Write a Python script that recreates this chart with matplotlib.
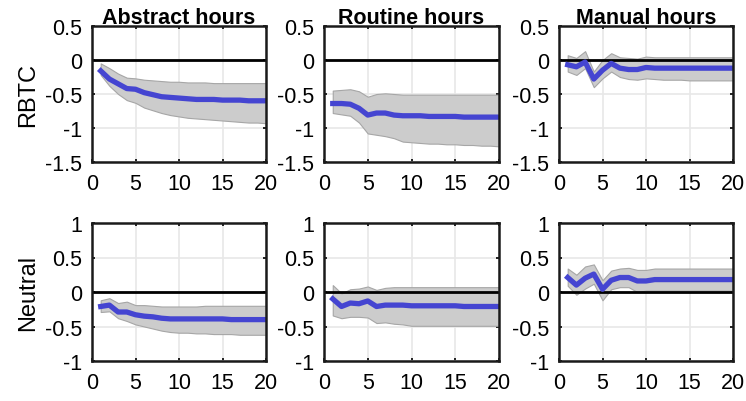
import numpy as np
import matplotlib
matplotlib.use("Agg")
import matplotlib.pyplot as plt

plt.rcParams['font.family'] = ['Liberation Sans', 'DejaVu Sans']
plt.rcParams['axes.unicode_minus'] = False

horizon = list(range(1, 21))
col_titles = ["Abstract hours", "Routine hours", "Manual hours"]
row_labels = ["RBTC", "Neutral"]

# RBTC row
rbtc_abs_mid = [-0.16, -0.28, -0.35, -0.42, -0.43, -0.48, -0.51, -0.54, -0.55, -0.56,
                -0.57, -0.58, -0.58, -0.58, -0.59, -0.59, -0.59, -0.60, -0.60, -0.60]
rbtc_abs_hi = [-0.05, -0.12, -0.20, -0.26, -0.27, -0.29, -0.30, -0.31, -0.32, -0.32,
               -0.33, -0.33, -0.33, -0.34, -0.34, -0.34, -0.34, -0.34, -0.34, -0.34]
rbtc_abs_lo = [-0.22, -0.38, -0.50, -0.59, -0.63, -0.70, -0.74, -0.78, -0.81, -0.83,
               -0.85, -0.86, -0.87, -0.88, -0.89, -0.90, -0.91, -0.92, -0.92, -0.93]

rbtc_rou_mid = [-0.64, -0.64, -0.65, -0.71, -0.81, -0.78, -0.78, -0.81, -0.82, -0.82,
                -0.82, -0.83, -0.83, -0.83, -0.83, -0.84, -0.84, -0.84, -0.84, -0.84]
rbtc_rou_hi = [-0.45, -0.44, -0.43, -0.46, -0.54, -0.50, -0.49, -0.50, -0.51, -0.51,
               -0.51, -0.51, -0.51, -0.51, -0.51, -0.51, -0.51, -0.51, -0.51, -0.51]
rbtc_rou_lo = [-0.78, -0.80, -0.82, -0.92, -1.08, -1.10, -1.12, -1.15, -1.20, -1.21,
               -1.22, -1.23, -1.23, -1.24, -1.24, -1.25, -1.25, -1.26, -1.26, -1.27]

rbtc_man_mid = [-0.07, -0.10, -0.03, -0.28, -0.15, -0.05, -0.12, -0.14, -0.14, -0.11,
                -0.12, -0.12, -0.12, -0.12, -0.12, -0.12, -0.12, -0.12, -0.12, -0.12]
rbtc_man_hi = [0.07, 0.03, 0.13, -0.17, 0.00, 0.10, 0.04, 0.03, 0.02, 0.05,
               0.04, 0.04, 0.04, 0.04, 0.04, 0.04, 0.04, 0.04, 0.04, 0.04]
rbtc_man_lo = [-0.17, -0.22, -0.12, -0.40, -0.27, -0.17, -0.25, -0.28, -0.29, -0.27,
               -0.28, -0.29, -0.29, -0.29, -0.30, -0.30, -0.30, -0.30, -0.30, -0.30]

# Neutral row
neu_abs_mid = [-0.21, -0.19, -0.29, -0.29, -0.33, -0.35, -0.36, -0.38, -0.39, -0.39,
               -0.39, -0.39, -0.39, -0.39, -0.39, -0.40, -0.40, -0.40, -0.40, -0.40]
neu_abs_hi = [-0.12, -0.09, -0.16, -0.14, -0.19, -0.19, -0.20, -0.21, -0.21, -0.21,
              -0.21, -0.21, -0.20, -0.20, -0.20, -0.20, -0.20, -0.20, -0.20, -0.20]
neu_abs_lo = [-0.29, -0.28, -0.38, -0.42, -0.47, -0.50, -0.53, -0.56, -0.58, -0.59,
              -0.59, -0.60, -0.60, -0.61, -0.61, -0.61, -0.62, -0.62, -0.62, -0.62]

neu_rou_mid = [-0.10, -0.21, -0.16, -0.17, -0.13, -0.21, -0.19, -0.19, -0.19, -0.20,
               -0.20, -0.20, -0.20, -0.20, -0.20, -0.21, -0.21, -0.21, -0.21, -0.21]
neu_rou_hi = [0.10, -0.02, 0.04, 0.05, 0.08, 0.03, 0.06, 0.07, 0.07, 0.07,
              0.07, 0.07, 0.07, 0.07, 0.07, 0.07, 0.07, 0.07, 0.07, 0.07]
neu_rou_lo = [-0.34, -0.38, -0.36, -0.36, -0.37, -0.45, -0.44, -0.46, -0.47, -0.49,
              -0.49, -0.49, -0.49, -0.49, -0.49, -0.49, -0.49, -0.49, -0.49, -0.49]

neu_man_mid = [0.21, 0.10, 0.20, 0.26, 0.04, 0.17, 0.21, 0.21, 0.16, 0.16,
               0.18, 0.18, 0.18, 0.18, 0.18, 0.18, 0.18, 0.18, 0.18, 0.18]
neu_man_hi = [0.34, 0.25, 0.37, 0.40, 0.17, 0.31, 0.34, 0.35, 0.32, 0.32,
              0.34, 0.34, 0.34, 0.34, 0.34, 0.34, 0.34, 0.34, 0.34, 0.34]
neu_man_lo = [0.09, -0.04, 0.05, 0.12, -0.12, 0.04, 0.07, 0.07, 0.00, 0.02,
              0.02, 0.02, 0.02, 0.02, 0.02, 0.02, 0.02, 0.02, 0.02, 0.02]

panels = [
    [(rbtc_abs_mid, rbtc_abs_lo, rbtc_abs_hi),
     (rbtc_rou_mid, rbtc_rou_lo, rbtc_rou_hi),
     (rbtc_man_mid, rbtc_man_lo, rbtc_man_hi)],
    [(neu_abs_mid, neu_abs_lo, neu_abs_hi),
     (neu_rou_mid, neu_rou_lo, neu_rou_hi),
     (neu_man_mid, neu_man_lo, neu_man_hi)],
]

row_ylim = [(-1.5, 0.5), (-1, 1)]
row_yticks = [[-1.5, -1, -0.5, 0, 0.5], [-1, -0.5, 0, 0.5, 1]]
row_yticklabels = [["-1.5", "-1", "-0.5", "0", "0.5"], ["-1", "-0.5", "0", "0.5", "1"]]
xticks = [0, 5, 10, 15, 20]

W, H = 746, 402
fig = plt.figure(figsize=(W / 100, H / 100), dpi=100)

col_px = [(92, 266), (324, 499), (559, 733)]
row_px = [(27, 163), (224, 362)]

line_color = (0.27, 0.27, 0.82)
for r in range(2):
    for c in range(3):
        x0, x1 = col_px[c]
        t, b = row_px[r]
        ax = fig.add_axes([x0 / W, (H - b) / H, (x1 - x0) / W, (b - t) / H])
        mid, lo, hi = panels[r][c]
        ax.fill_between(horizon, lo, hi, facecolor=(0.80, 0.80, 0.80),
                        edgecolor=(0.65, 0.65, 0.65), linewidth=0.8, zorder=2)
        ax.axhline(0, color='black', linewidth=2, zorder=3)
        ax.plot(horizon, mid, color=line_color, linewidth=3.8, zorder=4)
        ax.set_xlim(0, 20)
        ax.set_ylim(*row_ylim[r])
        ax.set_xticks(xticks)
        ax.set_xticklabels([str(v) for v in xticks])
        ax.set_yticks(row_yticks[r])
        ax.set_yticklabels(row_yticklabels[r])
        ax.grid(True, color=(0.91, 0.91, 0.91), linewidth=1.2, zorder=0)
        ax.set_axisbelow(True)
        ax.tick_params(direction='in', length=2.5, width=1.2, labelsize=15.5,
                       colors='black', top=True, right=True)
        ax.tick_params(axis='x', pad=8)
        ax.tick_params(axis='y', pad=7)
        for s in ax.spines.values():
            s.set_linewidth(1.8)
            s.set_color((0.1, 0.1, 0.1))
            s.set_zorder(5)
        if r == 0:
            ax.set_title(col_titles[c], fontsize=15.5, fontweight='bold', pad=2)
        if c == 0:
            ax.set_ylabel(row_labels[r], fontsize=17, labelpad=4)

fig.savefig("out.png", dpi=100)
